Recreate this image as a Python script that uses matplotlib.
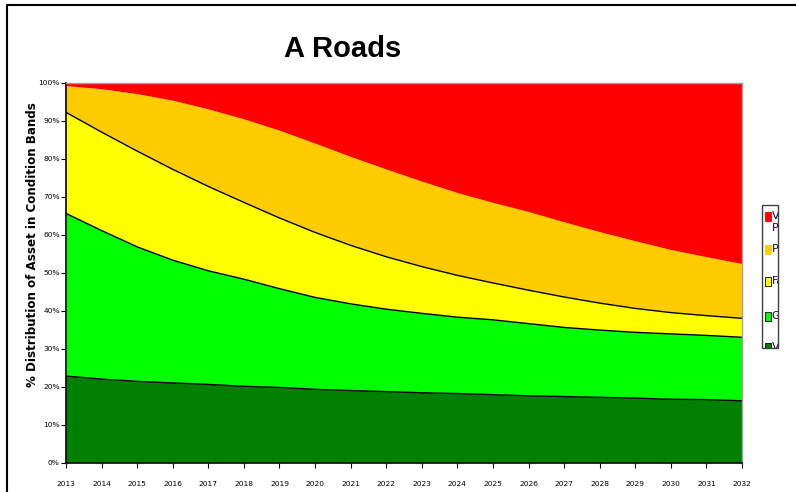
import numpy as np
import matplotlib.pyplot as plt
from matplotlib.patches import Rectangle
from matplotlib.lines import Line2D
from matplotlib.ticker import PercentFormatter

years = list(range(2013, 2033))

# share of network (%) in each condition band, bottom of the stack first
very_good = [22.8, 22.0, 21.4, 21.0, 20.6, 20.1, 19.8, 19.3, 19.0, 18.7,
             18.4, 18.2, 17.9, 17.6, 17.4, 17.2, 17.0, 16.7, 16.6, 16.3]
good = [42.8, 39.1, 35.4, 32.3, 29.9, 28.2, 26.0, 24.2, 22.8, 21.7,
        20.9, 20.1, 19.7, 19.0, 18.2, 17.7, 17.3, 17.2, 16.9, 16.7]
fair = [26.6, 25.9, 25.2, 23.9, 22.2, 20.2, 18.6, 17.1, 15.4, 13.8,
        12.3, 11.0, 9.7, 8.8, 8.0, 7.1, 6.3, 5.6, 5.2, 5.0]
poor = [6.9, 11.3, 15.0, 18.1, 20.3, 21.9, 23.0, 23.4, 23.3, 23.0,
        22.4, 21.7, 21.1, 20.6, 19.7, 18.7, 17.7, 16.5, 15.4, 14.3]
very_poor = [0.9, 1.7, 3.0, 4.7, 7.0, 9.6, 12.6, 16.0, 19.5, 22.8,
             26.0, 29.0, 31.6, 34.0, 36.7, 39.3, 41.7, 44.0, 45.9, 47.7]

bands = ['Very Good', 'Good', 'Fair', 'Poor', 'Very\nPoor']
colors = ['#008000', '#00FF00', '#FFFF00', '#FFCC00', '#FF0000']

fig = plt.figure(figsize=(7.96, 4.92), dpi=100)
W, H = 796, 492

ax = fig.add_axes([66 / W, 1 - 462.7 / H, 676 / W, 380 / H])
series = [very_good, good, fair, poor, very_poor]
ax.stackplot(years, series, colors=colors, linewidth=0)

# black outlines on the tops of the lower three bands
tops = np.cumsum(np.array(series), axis=0)
for k in range(3):
    ax.plot(years, tops[k], color='black', lw=1.0)

ax.set_xlim(2013, 2032)
ax.set_ylim(0, 100)
ax.set_xticks(years)
ax.set_yticks(range(0, 101, 10))
ax.yaxis.set_major_formatter(PercentFormatter(decimals=0))
ax.tick_params(axis='both', direction='out', length=3.5, width=0.8,
               labelsize=5.4, colors='black')
ax.tick_params(axis='x', pad=10)
ax.tick_params(axis='y', pad=1)
for s in ['top', 'right']:
    ax.spines[s].set_color('#a0a0a0')
    ax.spines[s].set_linewidth(1)
for s in ['left', 'bottom']:
    ax.spines[s].set_color('black')
    ax.spines[s].set_linewidth(1.2)

ax.set_ylabel('% Distribution of Asset in Condition Bands', fontsize=8.6,
              fontweight='bold')
ax.yaxis.set_label_coords(-0.040, 0.573)

fig.text(343 / W, 1 - 49 / H, 'A Roads', ha='center', va='center',
         fontsize=21, fontweight='bold', family='Liberation Sans')

# legend box, cut off at the right
box = Rectangle((762 / W, 1 - 348 / H), 15.5 / W, 143 / H,
                transform=fig.transFigure, facecolor='white',
                edgecolor='#404040', lw=1.0)
fig.add_artist(box)
clip = Rectangle((762 / W, 1 - 348 / H), 15.5 / W, 143 / H,
                 transform=fig.transFigure, facecolor='none', edgecolor='none')
fig.add_artist(clip)

legend_y = [216.5, 249.5, 281.5, 316, 347]
for name, col, yc in zip(bands[::-1], colors[::-1], legend_y):
    edge = 'black' if name in ('Fair', 'Good', 'Very Good') else col
    m = Rectangle((765 / W, 1 - (yc + 4.5) / H), 5.5 / W, 9 / H,
                  transform=fig.transFigure, facecolor=col,
                  edgecolor=edge, lw=0.6)
    m.set_clip_path(clip)
    fig.add_artist(m)
    t = fig.text(771.5 / W, 1 - yc / H, name, ha='left', va='top' if '\n' in name else 'center',
                 fontsize=8, color='#200030', linespacing=1.3)
    if '\n' in name:
        t.set_y(1 - (yc - 5.5) / H)
    t.set_clip_path(clip)

# outer chart border (extends beyond the saved area)
fig.add_artist(Line2D([7 / W, 7 / W, 1.0], [0.0, 1 - 4.5 / H, 1 - 4.5 / H],
                      transform=fig.transFigure, color='black', lw=1.5))

fig.savefig('out.png', dpi=100)
